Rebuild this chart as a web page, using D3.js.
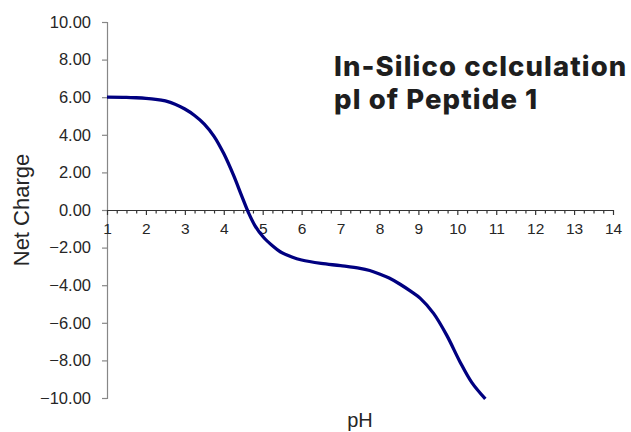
<!DOCTYPE html>
<html><head><meta charset="utf-8">
<script src="https://cdn.jsdelivr.net/npm/d3@7"></script>
<style>
html,body{margin:0;padding:0;background:#fff;}
svg{display:block;}
</style></head>
<body>
<svg id="chart" width="631" height="432"></svg>
<script>
// Data
const pH = [1.0, 1.5, 1.75, 2.0, 2.25, 2.5, 2.75, 3.0, 3.25, 3.5, 3.75, 4.0, 4.25, 4.46, 4.63, 4.80, 5.02, 5.25, 5.45, 5.75, 6.0, 6.5, 7.0, 7.5, 7.75, 8.0, 8.25, 8.53, 8.8, 9.05, 9.39, 9.73, 10.07, 10.37, 10.72];
const netCharge = [6.00, 5.99, 5.97, 5.94, 5.89, 5.80, 5.63, 5.37, 5.03, 4.57, 3.92, 3.00, 1.85, 0.75, -0.12, -0.83, -1.45, -1.90, -2.22, -2.50, -2.66, -2.84, -2.96, -3.10, -3.22, -3.40, -3.62, -3.95, -4.32, -4.70, -5.50, -6.67, -8.08, -9.17, -10.05];
const xTicks = [1,2,3,4,5,6,7,8,9,10,11,12,13,14];
const yTicks = [10,8,6,4,2,0,-2,-4,-6,-8,-10];
const titleLines = ["In-Silico cclculation", "pl of Peptide 1"];
const xTitle = "pH";
const yTitle = "Net Charge";

const svg = d3.select("#chart");
const x = d3.scaleLinear().domain([1,14]).range([107,613]);
const y = d3.scaleLinear().domain([-10,10]).range([398,22]);

// Y axis
const yAxis = d3.axisLeft(y).tickValues(yTicks).tickSize(5).tickPadding(11)
  .tickFormat(d => d3.format(".2f")(d));
const gy = svg.append("g").attr("transform", `translate(${x(1)},0)`).call(yAxis);
gy.select(".domain").attr("stroke", "#878787").attr("stroke-width", 1.2);
gy.selectAll(".tick line").attr("stroke", "#878787").attr("stroke-width", 1.2);
gy.selectAll(".tick text").attr("fill", "#262626")
  .style("font-family", "'Liberation Sans', Arial, sans-serif").style("font-size", "16.5px");

// X axis (crossing at y=0), minor ticks every 0.25
const minor = d3.range(1, 14.001, 0.25).filter(v => Math.abs(v - Math.round(v)) > 1e-6);
const gxm = svg.append("g").attr("transform", `translate(0,${y(0)})`)
  .call(d3.axisBottom(x).tickValues(minor).tickSize(3.5).tickFormat(""));
gxm.select(".domain").remove();
gxm.selectAll(".tick line").attr("stroke", "#333").attr("stroke-width", 1.2);
const gx = svg.append("g").attr("transform", `translate(0,${y(0)})`)
  .call(d3.axisBottom(x).tickValues(xTicks).tickSize(5).tickPadding(8).tickSizeOuter(0).tickFormat(d3.format("d")));
gx.select(".domain").attr("stroke", "#333").attr("stroke-width", 1.2);
gx.selectAll(".tick line").attr("stroke", "#333").attr("stroke-width", 1.2);
gx.selectAll(".tick text").attr("fill", "#262626")
  .style("font-family", "'Liberation Sans', Arial, sans-serif").style("font-size", "15.5px");

// Curve
const data = pH.map((p, i) => ({p, v: netCharge[i]}));
const line = d3.line().x(d => x(d.p)).y(d => y(d.v)).curve(d3.curveCatmullRom.alpha(0.5));
svg.append("path").datum(data).attr("d", line)
  .attr("fill", "none").attr("stroke", "#000080").attr("stroke-width", 3.3)
  .attr("stroke-linejoin", "round").attr("stroke-linecap", "butt");

// Axis titles
svg.append("text").attr("x", (x(1)+x(14))/2).attr("y", 427).attr("text-anchor", "middle")
  .attr("fill", "#262626").style("font-family", "'Liberation Sans', Arial, sans-serif")
  .style("font-size", "20px").text(xTitle);
svg.append("text").attr("transform", `translate(29,${(y(10)+y(-10))/2}) rotate(-90)`)
  .attr("text-anchor", "middle").attr("fill", "#262626")
  .style("font-family", "'Liberation Sans', Arial, sans-serif").style("font-size", "22px").text(yTitle);

// Chart title
svg.selectAll("text.title").data(titleLines).enter().append("text").attr("class", "title")
  .attr("x", 334).attr("y", (d, i) => 76 + i * 33)
  .attr("fill", "#1e1e1e").style("font-family", "Inter, Lato, sans-serif")
  .style("font-weight", "800").style("font-size", "27.5px").style("letter-spacing", "1.1px").text(d => d);
</script>
</body></html>
